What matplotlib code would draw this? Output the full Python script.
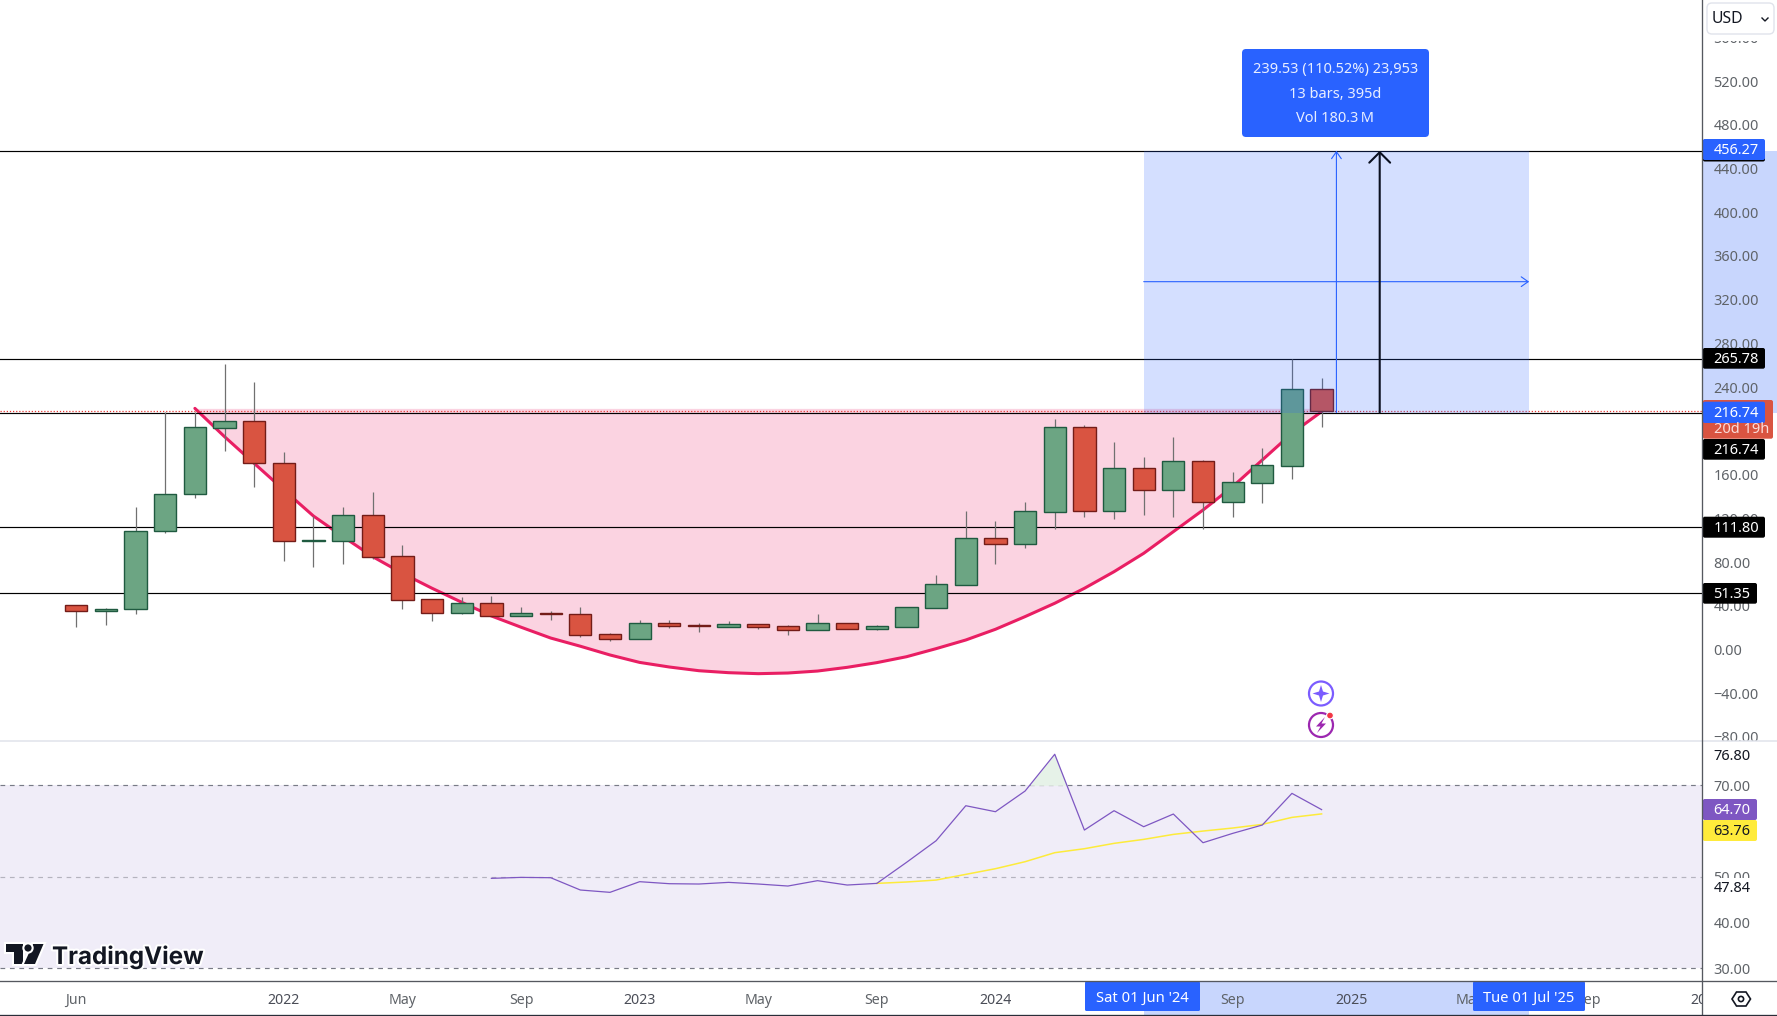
import matplotlib
matplotlib.use("Agg")
import matplotlib.pyplot as plt
import matplotlib.patheffects as pe
from matplotlib.patches import Rectangle, FancyBboxPatch, Polygon, Circle

plt.rcParams["font.family"] = ["Noto Sans", "DejaVu Sans"]

W, H = 1777, 1016

# monthly candles, Jun 2021 onwards
opens = [40.4, 35.5, 36.8, 108.1, 142.0, 203.0, 208.8, 170.3, 99.6, 99.6, 122.8, 85.2, 45.9, 33.7, 42.2,
         31.0, 33.1, 32.2, 13.9, 9.9, 23.9, 22.1, 20.9, 23.0, 21.2, 18.2, 23.9, 19.0, 20.9, 38.3,
         59.3, 101.7, 96.8, 126.1, 203.3, 127.0, 165.8, 146.2, 172.2, 135.3, 152.7, 168.2, 238.0]
closes = [35.5, 36.8, 108.1, 142.0, 203.3, 208.8, 170.3, 99.6, 100.3, 122.8, 84.9, 45.6, 33.7, 42.2, 31.0,
          33.1, 32.9, 13.6, 9.9, 23.9, 21.8, 21.9, 23.0, 20.9, 18.2, 23.9, 19.0, 21.2, 38.6, 59.6,
          101.7, 96.8, 126.4, 203.3, 127.0, 165.8, 146.2, 172.2, 135.3, 153.0, 168.5, 238.0, 218.5]
highs = [40.4, 38.0, 130.4, 217.0, 217.0, 261.2, 244.7, 180.7, 122.1, 130.4, 144.1, 95.6, 45.9, 48.0, 49.0,
         38.9, 35.2, 38.9, 14.8, 27.0, 27.0, 24.0, 26.0, 23.0, 22.1, 32.2, 23.9, 22.4, 38.6, 68.2,
         126.7, 117.6, 135.0, 210.9, 205.4, 189.8, 176.1, 194.4, 173.4, 162.4, 184.4, 265.8, 248.4]
lows = [20.9, 22.7, 32.8, 106.9, 139.0, 182.0, 149.0, 81.3, 75.8, 78.5, 83.1, 37.4, 26.4, 32.8, 31.0,
        31.0, 27.3, 11.8, 8.1, 9.9, 20.0, 16.3, 20.9, 19.0, 13.6, 18.2, 19.0, 18.2, 20.9, 38.3,
        59.3, 78.5, 92.9, 110.6, 121.5, 119.4, 123.4, 121.5, 110.6, 121.5, 134.3, 156.3, 203.6]

# cup drawing, one reading per bar from bar 4 to bar 42
arc_idx = list(range(4, 43))
arc_price = [220.6, 194.7, 170.3, 146.0, 122.1, 103.2, 84.9, 69.7, 56.0, 43.2, 30.7, 20.4, 10.5, 3.0, -5.0,
             -11.8, -16.0, -19.4, -21.2, -22.1, -21.5, -19.7, -16.3, -12.0, -6.6, 0.8, 8.7, 18.5, 30.1,
             42.3, 56.0, 71.2, 88.0, 107.8, 127.6, 149.0, 173.4, 197.8, 217.6]

levels = [456.27, 265.78, 216.74, 111.80, 51.35]
last_price = 218.5
range_start, range_end = 36, 49
range_low, range_high = 216.74, 456.27
arrow_idx = 43.96
price_ticks = [-80, -40, 0, 40, 80, 120, 160, 240, 280, 320, 360, 400, 440, 480, 520, 560]

rsi_idx = list(range(14, 43))
rsi_vals = [49.67, 49.88, 49.81, 47.12, 46.61, 48.94, 48.5, 48.43, 48.79, 48.43, 47.99, 49.16, 48.21, 48.57,
            53.16, 57.9, 65.55, 64.24, 68.76, 76.8, 60.23, 64.46, 60.96, 63.73, 57.46, 59.5, 61.33, 68.25, 64.7]
ma_idx = list(range(27, 43))
ma_vals = [48.57, 48.87, 49.3, 50.54, 51.78, 53.31, 55.28, 56.15, 57.32, 58.19, 59.28, 60.01, 60.67, 61.47, 63.0, 63.76]
rsi_ticks = [30, 40, 50, 70]

time_idx = [0, 7, 11, 15, 19, 23, 27, 31, 39, 43, 47, 51, 55]
time_labels = ["Jun", "2022", "May", "Sep", "2023", "May", "Sep", "2024", "Sep", "2025", "May", "Sep", "2026"]

GREEN, GREEN_E = "#6ca583", "#1f5a40"
RED, RED_E = "#d95441", "#731c18"
BLUE = "#2962ff"
GREY = "#5f6368"
AXIS_X = 1702.3
XLIM = (-2.573, 54.84)


def box(x0, y0, x1, y1):
    # pixel box, y measured from the top, to figure fractions
    return [x0 / W, 1 - y1 / H, (x1 - x0) / W, (y1 - y0) / H]


fig = plt.figure(figsize=(W / 100, H / 100), dpi=100, facecolor="white")

# band on the scales, behind everything
bg = fig.add_axes([0, 0, 1, 1], zorder=0)
bg.set_xlim(0, W)
bg.set_ylim(H, 0)
bg.axis("off")
bg.add_patch(Rectangle((AXIS_X, 150.8), W - AXIS_X, 261.8, color="#c8d6fd", lw=0))

ax = fig.add_axes(box(0, 0, AXIS_X, 741), zorder=1)
ax.set_xlim(*XLIM)
ax.set_ylim(-83.7, 594.2)
ax.patch.set_facecolor("white")

ax.fill_between(arc_idx, arc_price, arc_price[0], color="#fbd3e1", lw=0, zorder=1)
ax.plot(arc_idx, arc_price, color="#e91e63", lw=2.2, zorder=2, solid_capstyle="round")
for lv in levels:
    ax.axhline(lv, color="black", lw=0.85, zorder=3)
ax.axhline(last_price, color="#e53935", lw=0.9, ls=(0, (1, 1.5)), zorder=3)

for i in range(len(opens)):
    up = closes[i] >= opens[i]
    ax.vlines(i, lows[i], highs[i], color="#707070", lw=0.9, zorder=4)
    ax.bar(i, abs(closes[i] - opens[i]), bottom=min(opens[i], closes[i]), width=0.75,
           color=GREEN if up else RED, edgecolor=GREEN_E if up else RED_E, lw=1.0, zorder=5)

ax.add_patch(Rectangle((range_start, range_low), range_end - range_start, range_high - range_low,
                       color=BLUE, alpha=0.2, lw=0, zorder=6))
mid = (range_low + range_high) / 2
ax.annotate("", xy=(range_end, mid), xytext=(range_start, mid), zorder=7,
            arrowprops=dict(arrowstyle="->,head_length=0.5,head_width=0.35", color=BLUE, lw=0.8, shrinkA=0, shrinkB=0))
ax.annotate("", xy=(42.5, range_high), xytext=(42.5, range_low), zorder=7,
            arrowprops=dict(arrowstyle="->,head_length=0.5,head_width=0.35", color=BLUE, lw=0.8, shrinkA=0, shrinkB=0))
ax.annotate("", xy=(arrow_idx, range_high), xytext=(arrow_idx, range_low), zorder=7,
            arrowprops=dict(arrowstyle="->,head_length=0.75,head_width=0.75", color="#0b1020", lw=1.5, shrinkA=0, shrinkB=0))

ax.set_xticks([])
ax.yaxis.tick_right()
ax.set_yticks(price_ticks, [f"{t:.2f}".replace("-", "\u2212") for t in price_ticks])
ax.tick_params(axis="y", length=0, pad=8, labelsize=10.4, labelcolor=GREY)
for lab in ax.get_yticklabels():
    lab.set_ha("left")
for s in ax.spines.values():
    s.set_visible(False)

rsi = fig.add_axes(box(0, 741, AXIS_X, 981.3), zorder=1)
rsi.set_xlim(*XLIM)
rsi.set_ylim(27.16, 79.7)
rsi.axhspan(30, 70, color="#f0edf8", lw=0, zorder=1)
rsi.axhline(70, color="#787b86", lw=0.85, ls=(0, (4, 4)), zorder=2)
rsi.axhline(50, color="#b4b3be", lw=0.85, ls=(0, (4, 4)), zorder=2)
rsi.axhline(30, color="#787b86", lw=0.85, ls=(0, (4, 4)), zorder=2)
rsi.fill_between(rsi_idx, rsi_vals, 70, where=[v > 70 for v in rsi_vals], interpolate=True,
                 color="#e6f2e8", lw=0, zorder=2)
rsi.plot(ma_idx, ma_vals, color="#fdeb3b", lw=1.1, zorder=3)
rsi.plot(rsi_idx, rsi_vals, color="#7e57c2", lw=0.9, zorder=4)
rsi.set_xticks([])
rsi.yaxis.tick_right()
rsi.set_yticks(rsi_ticks, [f"{t:.2f}" for t in rsi_ticks])
rsi.tick_params(axis="y", length=0, pad=8, labelsize=10.4, labelcolor=GREY)
for s in rsi.spines.values():
    s.set_visible(False)

tax = fig.add_axes(box(0, 981.3, AXIS_X, 1015), zorder=1)
tax.set_xlim(*XLIM)
tax.set_ylim(0, 1)
tax.axvspan(range_start, range_end, color="#c8d6fd", lw=0)
for i, lab in zip(time_idx, time_labels):
    is_year = lab.isdigit()
    tax.text(i, 0.44, lab, ha="center", va="center", clip_on=True, fontsize=10.2,
             color="#4a4d57" if is_year else GREY, fontweight="bold" if is_year else "normal")
tax.set_xticks([])
tax.set_yticks([])
for s in tax.spines.values():
    s.set_visible(False)

# everything that sits on top, in pixels
ov = fig.add_axes([0, 0, 1, 1], zorder=3)
ov.set_xlim(0, W)
ov.set_ylim(H, 0)
ov.axis("off")

ov.add_patch(Rectangle((AXIS_X + 1, 0), W, 40.5, color="white", lw=0))
ov.add_patch(Rectangle((AXIS_X + 1, 741), W, 12, color="white", lw=0))
ov.plot([0, W], [741, 741], color="#e0e3eb", lw=1.1)
ov.plot([AXIS_X, AXIS_X], [0, 1015], color="#55585f", lw=0.95)
ov.plot([0, W], [981.3, 981.3], color="#55585f", lw=0.95)
ov.plot([0, W], [1015.3, 1015.3], color="#2a2e39", lw=0.95)

ov.add_patch(FancyBboxPatch((1710, 6), 61, 25, boxstyle="round,pad=3,rounding_size=5", fc="white", ec="#e0e3eb", lw=1))
ov.text(1712, 19, "USD", va="center", ha="left", fontsize=11.4, color="#131722")
ov.plot([1762, 1765, 1768], [18, 21, 18], color="#131722", lw=1)


def tag(y0, y1, x1, color, label, tcolor="white", ty=None):
    ov.add_patch(FancyBboxPatch((AXIS_X + 0.5, y0), x1 - AXIS_X - 0.5, y1 - y0,
                                boxstyle="round,pad=0,rounding_size=2", fc=color, ec="none"))
    ov.text(1713.5, (y0 + y1) / 2 + 1.4 if ty is None else ty, label, va="center", ha="left",
            fontsize=10.5, color=tcolor)


tag(145, 161.5, 1765, "black", "")
tag(139, 160, 1765, BLUE, "456.27", ty=150.8)
tag(348, 368.7, 1765, "black", "265.78")
tag(400, 438.7, 1773, RED, "20d 19h", tcolor="#fbdcd8", ty=429.8)
tag(401.7, 423, 1765, BLUE, "216.74")
tag(439, 459.7, 1765, "black", "216.74")
tag(516.7, 537.7, 1765, "black", "111.80")
tag(583, 603.7, 1757, "black", "51.35")
tag(799, 820, 1757, "#7e57c2", "64.70")
tag(820, 841, 1757, "#ffeb3b", "63.76", tcolor="#131722")
ov.add_patch(Rectangle((AXIS_X + 1, 878), 60, 19, color="white", lw=0))
ov.text(1713.5, 888, "47.84", va="center", ha="left", fontsize=10.5, color="#131722")
ov.text(1713.5, 756, "76.80", va="center", ha="left", fontsize=10.5, color="#131722")

ov.add_patch(FancyBboxPatch((1242, 49), 187, 88, boxstyle="round,pad=0,rounding_size=4", fc=BLUE, ec="none"))
for yy, line in zip([69.5, 94, 119], ["239.53 (110.52%) 23,953", "13 bars, 395d", "Vol 180.3\u2009M"]):
    ov.text(1335.5, yy, line, ha="center", va="center", fontsize=10.5, color="#e8eeff")

for x0, x1, lab in [(1085, 1200, "Sat 01 Jun '24"), (1473, 1585, "Tue 01 Jul '25")]:
    ov.add_patch(FancyBboxPatch((x0, 981.5), x1 - x0, 29.5, boxstyle="round,pad=0,rounding_size=1.5", fc=BLUE, ec="none"))
    ov.text((x0 + x1) / 2, 998, lab, ha="center", va="center", fontsize=10.6, color="white")

# small floating icons
ov.add_patch(Circle((1321, 693.5), 12, fc="none", ec="#7b5cff", lw=1.6))
ov.add_patch(Polygon([(1321, 685), (1323, 691.5), (1329.5, 693.5), (1323, 695.5), (1321, 702),
                      (1319, 695.5), (1312.5, 693.5), (1319, 691.5)], fc="#7b5cff", ec="none"))
ov.add_patch(Circle((1321, 725), 12, fc="none", ec="#9c27b0", lw=1.6))
ov.add_patch(Polygon([(1325, 717), (1316, 726.5), (1320.5, 726.5), (1317, 733), (1326, 723.5), (1321.5, 723.5)],
                     fc="#9c27b0", ec="none"))
ov.add_patch(Circle((1330, 715.5), 3.4, fc="#f23645", ec="white", lw=0.8))

# settings hexagon
ov.add_patch(Polygon([(1732, 999), (1736.5, 992), (1746, 992), (1750.5, 999), (1746, 1006), (1736.5, 1006)],
                     fc="none", ec="#131722", lw=1.2))
ov.add_patch(Circle((1741, 999), 2.6, fc="none", ec="#131722", lw=1.2))

# logo
halo = [pe.withStroke(linewidth=3, foreground="white")]
logo_parts = [Polygon([(5.5, 944), (23, 944), (23, 964), (13.5, 964), (13.5, 951.5), (5.5, 951.5)], fc="#131722", ec="none"),
              Polygon([(33, 944), (43.5, 944), (35, 964), (24, 964)], fc="#131722", ec="none"),
              Circle((28, 948), 3.6, fc="#131722", ec="none")]
for part in logo_parts:
    part.set_path_effects([pe.withStroke(linewidth=3, foreground="white")])
    ov.add_patch(part)
ov.text(52, 964, "TradingView", ha="left", va="baseline", fontsize=17.4, family="Inter", fontweight="bold",
        color="#131722", path_effects=halo)

fig.savefig("out.png", dpi=100)
